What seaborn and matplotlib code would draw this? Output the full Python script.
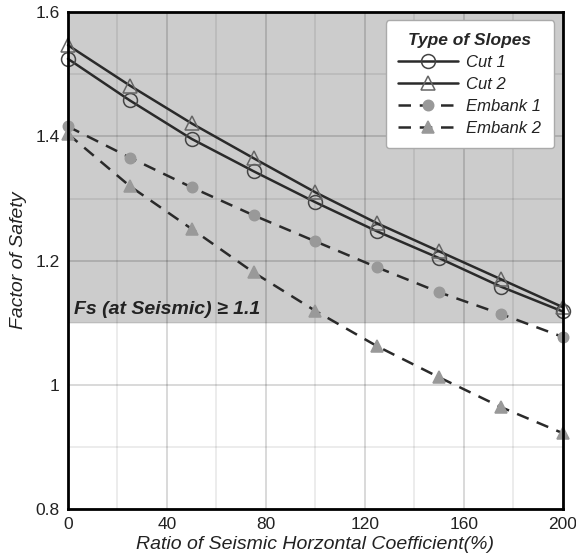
import numpy as np
import pandas as pd
import seaborn as sns
import matplotlib.pyplot as plt
from matplotlib.ticker import MultipleLocator

ratio = [0, 25, 50, 75, 100, 125, 150, 175, 200]
cut1 = [1.525, 1.458, 1.396, 1.344, 1.294, 1.247, 1.204, 1.158, 1.118]
cut2 = [1.547, 1.482, 1.421, 1.365, 1.310, 1.260, 1.215, 1.170, 1.125]
embank1 = [1.416, 1.366, 1.318, 1.273, 1.231, 1.189, 1.149, 1.114, 1.077]
embank2 = [1.404, 1.320, 1.251, 1.181, 1.119, 1.062, 1.012, 0.964, 0.922]
series_names = ["Cut 1", "Cut 2", "Embank 1", "Embank 2"]
x_ticks = [0, 40, 80, 120, 160, 200]
y_ticks = [0.8, 1.0, 1.2, 1.4, 1.6]
y_tick_labels = ["0.8", "1", "1.2", "1.4", "1.6"]
threshold = 1.1

df = pd.DataFrame({
    "ratio": ratio * 4,
    "fs": cut1 + cut2 + embank1 + embank2,
    "type": sum([[n] * len(ratio) for n in series_names], []),
})

sns.set_theme(style="white")
plt.rcParams['font.family'] = ['Liberation Sans', 'DejaVu Sans']

fig = plt.figure(figsize=(5.76, 5.58), dpi=100)
ax = fig.add_axes([0.118, 0.088, 0.859, 0.89])

ax.axhspan(threshold, 1.6, color='#cccccc', zorder=0, lw=0)

styles = {
    "Cut 1": dict(marker='o', ls='-', mfc='none', mec='#444444', ms=10),
    "Cut 2": dict(marker='^', ls='-', mfc='none', mec='#666666', ms=10),
    "Embank 1": dict(marker='o', ls=(0, (5, 3.5)), mfc='#999999', mec='#999999', ms=7.5),
    "Embank 2": dict(marker='^', ls=(0, (5, 3.5)), mfc='#999999', mec='#999999', ms=8.5),
}
for name in series_names:
    sub = df[df["type"] == name]
    st = styles[name]
    sns.lineplot(data=sub, x="ratio", y="fs", ax=ax, color='#2a2a2a', lw=1.8,
                 linestyle=st['ls'], marker=st['marker'], markersize=st['ms'],
                 markerfacecolor=st['mfc'], markeredgecolor=st['mec'],
                 markeredgewidth=1.1, label=name, zorder=3, clip_on=False)

ax.set_xlim(0, 200)
ax.set_ylim(0.8, 1.6)
ax.set_xticks(x_ticks)
ax.set_yticks(y_ticks)
ax.set_yticklabels(y_tick_labels)
ax.xaxis.set_minor_locator(MultipleLocator(20))
ax.yaxis.set_minor_locator(MultipleLocator(0.1))
ax.grid(True, which='major', color='black', alpha=0.16, lw=1.3, zorder=1)
ax.grid(True, which='minor', color='black', alpha=0.09, lw=1.2, zorder=1)
ax.set_axisbelow(True)
ax.tick_params(axis='both', which='both', length=0, labelsize=12.5, colors='#222222', pad=6)
for sp in ax.spines.values():
    sp.set_color('black')
    sp.set_linewidth(2)
    sp.set_zorder(5)

ax.set_xlabel("Ratio of Seismic Horzontal Coefficient(%)", fontsize=14, style='italic', labelpad=3, color='#222222')
ax.set_ylabel("Factor of Safety", fontsize=14, style='italic', labelpad=6, color='#222222')

ax.text(2.5, 1.108, "Fs (at Seismic) \u2265 1.1", fontsize=14, fontweight='bold', style='italic',
        color='#222222', ha='left', va='bottom')

leg = ax.legend(loc='upper right', bbox_to_anchor=(0.982, 0.984), borderaxespad=0,
                title="Type of Slopes",
                fontsize=12, title_fontproperties={'weight': 'bold', 'style': 'italic', 'size': 12.5},
                frameon=True, fancybox=True, framealpha=1, edgecolor='#aaaaaa',
                handlelength=3.6, handletextpad=0.5, labelspacing=0.42, borderpad=0.75)
for t in leg.get_texts():
    t.set_style('italic')
    t.set_color('#222222')
leg.get_frame().set_linewidth(1)

fig.savefig("out.png", dpi=100)
